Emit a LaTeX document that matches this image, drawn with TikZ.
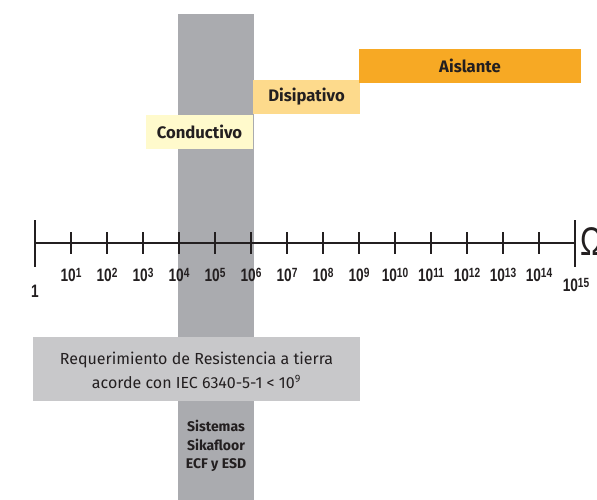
\documentclass[tikz,border=0pt]{standalone}
\usepackage{fontspec}
\setmainfont{Fira Sans}
\newfontfamily\axisfont[FakeStretch=0.76]{Liberation Sans}
\usepackage{tikz}

\definecolor{colgray}{RGB}{170,171,175}
\definecolor{reqgray}{RGB}{200,200,202}
\definecolor{condyel}{RGB}{255,250,204}
\definecolor{disipyel}{RGB}{253,218,140}
\definecolor{aislorg}{RGB}{247,169,36}
\definecolor{inkdark}{RGB}{35,31,32}

% power of ten label
\newcommand{\dec}[1]{10\raisebox{0.5ex}{\fontsize{10}{10}\selectfont #1}}

\tikzset{
  zone/.style={font=\bfseries\fontsize{12.5}{14}\selectfont, text=inkdark, inner sep=0pt},
  tick/.style={line width=0.9pt, draw=inkdark},
  decade/.style={font=\axisfont\bfseries\fontsize{13.5}{14}\selectfont, text=inkdark, inner sep=0pt}
}

\begin{document}
\begin{tikzpicture}[x=0.75pt,y=0.75pt,yscale=-1,xscale=1]
\useasboundingbox (0,0) rectangle (597,500);

%Shape: Rectangle [gray column]
\fill [colgray] (178,14) -- (254,14) -- (254,500) -- (178,500) -- cycle ;
%Shape: Rectangle [Conductivo]
\fill [condyel] (146,115) -- (253,115) -- (253,149) -- (146,149) -- cycle ;
%Shape: Rectangle [Disipativo]
\fill [disipyel] (253,80) -- (360,80) -- (360,114) -- (253,114) -- cycle ;
%Shape: Rectangle [Aislante]
\fill [aislorg] (359,49) -- (581,49) -- (581,83) -- (359,83) -- cycle ;
%Shape: Rectangle [Requerimiento]
\fill [reqgray] (33,337) -- (360,337) -- (360,401) -- (33,401) -- cycle ;

%Text nodes
\node [zone] (cond) at (199.5,132) {Conductivo};
\node [zone] (disip) at (306.5,97) {Disipativo};
\node [zone] (aisl) at (470,66) {Aislante};
\node [align=center, text=inkdark, font=\fontsize{12}{18}\selectfont, inner sep=0pt] (req) at (196.5,370)
  {Requerimiento de Resistencia a tierra\\acorde con IEC 6340-5-1 < 10\textsuperscript{9}};
\node [align=center, text=inkdark, font=\bfseries\fontsize{10.5}{14}\selectfont, inner sep=0pt] (sist) at (216,446)
  {Sistemas\\Sikafloor\\ECF y ESD};

%Axis
\draw [tick] (35,243) -- (575,243) ;
\draw [tick] (35,220) -- (35,267) ;
\draw [tick] (575,220) -- (575,267) ;
\foreach \i in {1,...,14}
  \draw [tick] (35+36*\i,232) -- (35+36*\i,254) ;

%Decade labels
\node [decade] (l0) at (35,291) {1};
\foreach \i in {1,...,14}
  \node [decade] (l\i) at (35+36*\i,275) {\dec{\i}};
\node [decade] (l15) at (576,285) {\dec{15}};
\node [font=\axisfont\fontsize{30}{32}\selectfont, text=inkdark, inner sep=0pt, anchor=west] (ohm) at (580,242) {Ω};

\end{tikzpicture}
\end{document}
